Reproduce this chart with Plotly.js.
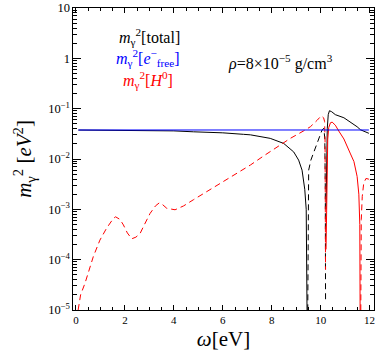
<!DOCTYPE html>
<html>
<head>
<meta charset="utf-8">
<script src="https://cdn.plot.ly/plotly-3.0.1.min.js"></script>
<style>
  html, body { margin: 0; padding: 0; background: #fff; }
  #plot { width: 379px; height: 359px; }
</style>
</head>
<body>
<div id="plot"></div>
<script>
// photon mass squared vs energy, rho = 8e-5 g/cm^3
// solid = positive, dashed = negative (absolute value shown)

// free electrons (flat)
var omegaFree = [0.1, 6, 11.97];
var mFree = [0.0377, 0.0377, 0.0377];

// total, below the first zero crossing
var omegaTotalA = [0.1, 2.0, 4.0, 4.8, 6.0, 6.85, 7.13, 7.94, 8.49, 8.9, 9.1, 9.24, 9.35, 9.41, 9.45, 9.46];
var mTotalA = [0.0376, 0.0374, 0.0362, 0.0347, 0.0331, 0.0309, 0.0302, 0.0257, 0.0204, 0.0138, 0.0095, 0.0060, 0.0025, 0.0010, 1.0e-4, 1e-6];

// total, negative part
var omegaTotalB = [9.46, 9.48, 9.51, 9.6, 9.72, 9.92, 10.06, 10.13, 10.17, 10.19, 10.2];
var mTotalB = [1e-6, 1.0e-3, 6.0e-3, 9.5e-3, 1.38e-2, 2.57e-2, 3.8e-2, 4.07e-2, 2.5e-2, 2.5e-3, 1.6e-5];

// total, above the Lyman-alpha line
var omegaTotalC = [10.22, 10.24, 10.27, 10.31, 10.36, 10.45, 10.6, 10.95, 11.2, 11.49, 11.63, 11.8, 11.97];
var mTotalC = [1.0e-3, 1.0e-2, 4.0e-2, 7.6e-2, 9.1e-2, 8.7e-2, 7.6e-2, 6.6e-2, 5.5e-2, 4.37e-2, 3.8e-2, 3.47e-2, 3.24e-2];

// neutral hydrogen, negative part below 10.2 eV
var omegaHA = [0.09, 0.19, 0.37, 0.71, 0.98, 1.25, 1.53, 1.62, 1.8, 1.94, 2.1, 2.28, 2.45, 2.62, 2.8, 3.03, 3.25, 3.41, 3.55, 3.71, 4.05, 4.4, 4.8, 5.49, 6.17, 6.85, 7.13, 7.67, 8.22, 8.76, 9.31, 9.58, 9.86, 10.02, 10.12, 10.16, 10.18, 10.2];
var mHA = [1.0e-5, 2.0e-5, 3.4e-5, 1.15e-4, 2.45e-4, 4.2e-4, 6.6e-4, 7.1e-4, 6.3e-4, 4.9e-4, 3.4e-4, 2.6e-4, 2.8e-4, 3.3e-4, 5.0e-4, 8.3e-4, 1.17e-3, 1.35e-3, 1.23e-3, 1.05e-3, 9.8e-4, 1.17e-3, 1.55e-3, 2.5e-3, 4.0e-3, 6.3e-3, 7.6e-3, 1.15e-2, 1.74e-2, 2.57e-2, 3.63e-2, 4.37e-2, 5.9e-2, 7.2e-2, 6.6e-2, 5.6e-2, 2.5e-2, 6.3e-5];

// neutral hydrogen, positive part
var omegaHB = [10.22, 10.26, 10.29, 10.33, 10.4, 10.47, 10.6, 10.74, 10.95, 11.22, 11.36, 11.49, 11.56, 11.6, 11.62];
var mHB = [1.6e-4, 1.0e-2, 2.5e-2, 4.2e-2, 5.25e-2, 5.4e-2, 4.7e-2, 3.6e-2, 2.5e-2, 1.26e-2, 8.9e-3, 4.5e-3, 2.0e-3, 5.0e-4, 1e-6];

// neutral hydrogen, negative again
var omegaHC = [11.63, 11.66, 11.7, 11.76, 11.85, 11.95, 12.0];
var mHC = [1e-6, 6.3e-4, 1.8e-3, 3.3e-3, 4.1e-3, 4.0e-3, 3.8e-3];

var serif = "Liberation Serif";

function seg(x, y, color, dash) {
  return {
    x: x, y: y,
    mode: "lines",
    type: "scatter",
    showlegend: false,
    hoverinfo: "skip",
    line: {color: color, width: 1, dash: dash}
  };
}

var data = [
  seg(omegaTotalA, mTotalA, "black", "solid"),
  seg(omegaTotalB, mTotalB, "black", "6px,4px"),
  seg(omegaTotalC, mTotalC, "black", "solid"),
  seg(omegaHA, mHA, "red", "6px,4px"),
  seg(omegaHB, mHB, "red", "solid"),
  seg(omegaHC, mHC, "red", "6px,4px"),
  seg(omegaFree, mFree, "blue", "solid")
];

var layout = {
  width: 379,
  height: 359,
  margin: {l: 73, r: 5, t: 8, b: 49},
  paper_bgcolor: "white",
  plot_bgcolor: "white",
  font: {family: serif, color: "black", size: 11},
  showlegend: false,
  xaxis: {
    range: [-0.12, 12.18],
    tick0: 0,
    dtick: 2,
    ticks: "inside",
    ticklen: 5,
    tickcolor: "black",
    showline: true,
    linecolor: "black",
    linewidth: 1,
    mirror: "allticks",
    showgrid: false,
    zeroline: false,
    tickfont: {family: serif, size: 11},
    minor: {dtick: 0.5, ticks: "inside", ticklen: 3, tickcolor: "black", showgrid: false},
    title: {text: "<i>ω</i>[eV]", font: {family: serif, size: 21}, standoff: 6}
  },
  yaxis: {
    type: "log",
    range: [-5, 1],
    dtick: 1,
    exponentformat: "power",
    ticks: "inside",
    ticklen: 8,
    tickcolor: "black",
    showline: true,
    linecolor: "black",
    linewidth: 1,
    mirror: "allticks",
    showgrid: false,
    zeroline: false,
    tickfont: {family: serif, size: 10},
    minor: {ticks: "inside", ticklen: 4, tickcolor: "black", showgrid: false},
    title: {text: "<i>m</i><sub>γ</sub><sup>2</sup> [<i>eV</i><sup>2</sup>]", font: {family: serif, size: 21}, standoff: 10}
  },
  annotations: [
    {xref: "paper", yref: "paper", x: 0.253, y: 0.904, xanchor: "center", yanchor: "middle", showarrow: false,
     text: "<i>m</i><sub>γ</sub><sup>2</sup>[total]", font: {family: serif, size: 16, color: "black"}},
    {xref: "paper", yref: "paper", x: 0.249, y: 0.834, xanchor: "center", yanchor: "middle", showarrow: false,
     text: "<i>m</i><sub>γ</sub><sup>2</sup>[<i>e</i><sup>−</sup><sub>free</sub>]", font: {family: serif, size: 16, color: "blue"}},
    {xref: "paper", yref: "paper", x: 0.249, y: 0.762, xanchor: "center", yanchor: "middle", showarrow: false,
     text: "<i>m</i><sub>γ</sub><sup>2</sup>[<i>H</i><sup>0</sup>]", font: {family: serif, size: 16, color: "red"}},
    {xref: "paper", yref: "paper", x: 0.688, y: 0.821, xanchor: "center", yanchor: "middle", showarrow: false,
     text: "<i>ρ</i>=8×10<sup>−5</sup> g/cm<sup>3</sup>", font: {family: serif, size: 16, color: "black"}}
  ]
};

Plotly.newPlot("plot", data, layout, {staticPlot: true});
</script>
</body>
</html>
